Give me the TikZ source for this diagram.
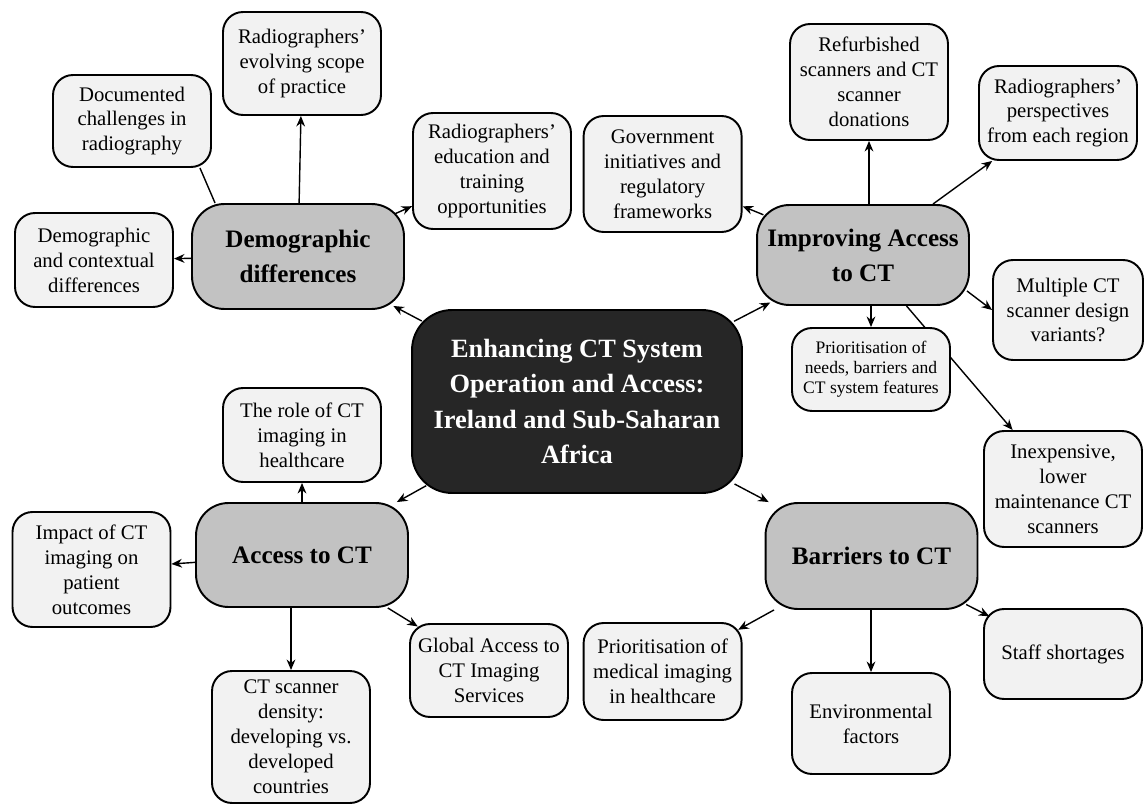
\documentclass[tikz,border=0pt]{standalone}
\usepackage{fontspec}
\setmainfont{Liberation Serif}
\usetikzlibrary{arrows.meta,calc,backgrounds}

\begin{document}
\begin{tikzpicture}[x=0.02cm,y=-0.02cm,
    leaf/.style={draw=black,line width=1.1pt,rounded corners=0.4cm,fill=black!5,
        minimum width=3.16cm,align=center,inner sep=2pt,
        font=\fontsize{11.8}{14.2}\selectfont},
    topic/.style={draw=black,line width=1.1pt,rounded corners=0.65cm,fill=black!24,
        minimum width=4.24cm,minimum height=2.08cm,align=center,
        font=\fontsize{14.3}{20}\selectfont\bfseries},
    hub/.style={draw=black,line width=1.1pt,rounded corners=0.8cm,fill=black!85,text=white,
        minimum width=6.6cm,minimum height=3.66cm,align=center,
        font=\fontsize{15}{20}\selectfont\bfseries},
    link/.style={line width=0.8pt,-{Stealth[length=6pt,width=5pt]}}]

        % Fix the frame
        \useasboundingbox (0,0) rectangle (1145,807);

        % Draw the centre
        \node[hub] (centre) at (577,401.5) {Enhancing CT System\\Operation and Access:\\Ireland and Sub-Saharan\\Africa};

        % Draw the four topics
        \node[topic,minimum height=2.1cm] (demo) at (298,256.5) {Demographic\\differences};
        \node[topic,minimum height=2cm] (improve) at (863,255) {Improving Access\\to CT};
        \node[topic] (access) at (302,555) {Access to CT};
        \node[topic,minimum height=2.12cm] (barrier) at (871.5,556) {Barriers to CT};

        % Demographic leaves
        \node[leaf,minimum height=2.06cm] (scope) at (302,63.5) {Radiographers'\\evolving scope\\of practice};
        \node[leaf,minimum height=1.84cm] (docu) at (132,121) {Documented\\challenges in\\radiography};
        \node[leaf,minimum height=2.32cm] (edu) at (492,171) {Radiographers'\\education and\\training\\opportunities};
        \node[leaf,minimum height=1.88cm] (context) at (94,260) {Demographic\\and contextual\\differences};

        % Improving leaves
        \node[leaf,minimum height=2.32cm] (govt) at (662.6,174) {Government\\initiatives and\\regulatory\\frameworks};
        \node[leaf,minimum height=2.32cm] (refurb) at (869,82) {Refurbished\\scanners and CT\\scanner\\donations};
        \node[leaf,minimum height=1.88cm] (views) at (1058,113) {Radiographers'\\perspectives\\from each region};
        \node[leaf,minimum height=2cm,minimum width=3cm] (variants) at (1068,310) {Multiple CT\\scanner design\\variants?};
        \node[leaf,minimum height=1.66cm,font=\fontsize{10}{11.5}\selectfont] (needs) at (871,369.5) {Prioritisation of\\needs, barriers and\\CT system features};
        \node[leaf,minimum height=2.32cm] (cheap) at (1063,489) {Inexpensive,\\lower\\maintenance CT\\scanners};

        % Access leaves
        \node[leaf,minimum height=1.88cm] (role) at (302,435) {The role of CT\\imaging in\\healthcare};
        \node[leaf,minimum height=2.3cm] (impact) at (91.5,569.5) {Impact of CT\\imaging on\\patient\\outcomes};
        \node[leaf,minimum height=1.86cm] (global) at (489,670.5) {Global Access to\\CT Imaging\\Services};
        \node[leaf,minimum height=2.64cm] (density) at (291,737) {CT scanner\\density:\\developing vs.\\developed\\countries};

        % Barrier leaves
        \node[leaf,minimum height=1.94cm] (medical) at (662.6,671.5) {Prioritisation of\\medical imaging\\in healthcare};
        \node[leaf,minimum height=2.02cm] (enviro) at (871,723.5) {Environmental\\factors};
        \node[leaf,minimum height=1.8cm] (staff) at (1063,654) {Staff shortages};

        % Draw the centre links
        \draw[link,shorten <=-0.24cm,shorten >=-0.17cm] (centre) -- (demo);
        \draw[link,shorten <=-0.2cm,shorten >=-0.15cm] (centre) -- (improve);
        \draw[link,shorten <=-0.34cm] (centre) -- (access);
        \draw[link,shorten <=-0.19cm] (centre) -- (barrier);

        % Demographic links
        \draw[link] (demo) -- (scope);
        \draw[line width=0.8pt] ($(demo.north west)+(24,0)$) -- ($(docu.south east)+(-12,0)$);
        \draw[link,shorten <=-0.21cm] (demo) -- (edu);
        \draw[link] (demo) -- (context);

        % Improving links (the long one runs under the needs box)
        \begin{scope}[on background layer]
            \draw[link] (improve) -- (cheap);
        \end{scope}
        \draw[link,shorten <=-0.16cm] (improve) -- (govt);
        \draw[link] (improve.north -| refurb) -- (refurb);
        \draw[link] (improve) -- (views);
        \draw[link] ($(improve.south east)+(-3,-15)$) -- (variants.west);
        \draw[link] (improve.south -| needs) -- (needs);

        % Access links
        \draw[link] (access) -- (role);
        \draw[link] (access) -- (impact);
        \draw[link] (access.south -| density) -- (density);
        \draw[link,shorten >=-0.13cm] (access) -- (global);

        % Barrier links
        \draw[link,shorten >=-0.1cm] (barrier) -- (medical);
        \draw[link] (barrier.south -| enviro) -- (enviro);
        \draw[link,shorten <=-0.24cm,shorten >=-0.14cm] (barrier) -- (staff);

    \end{tikzpicture}
\end{document}
